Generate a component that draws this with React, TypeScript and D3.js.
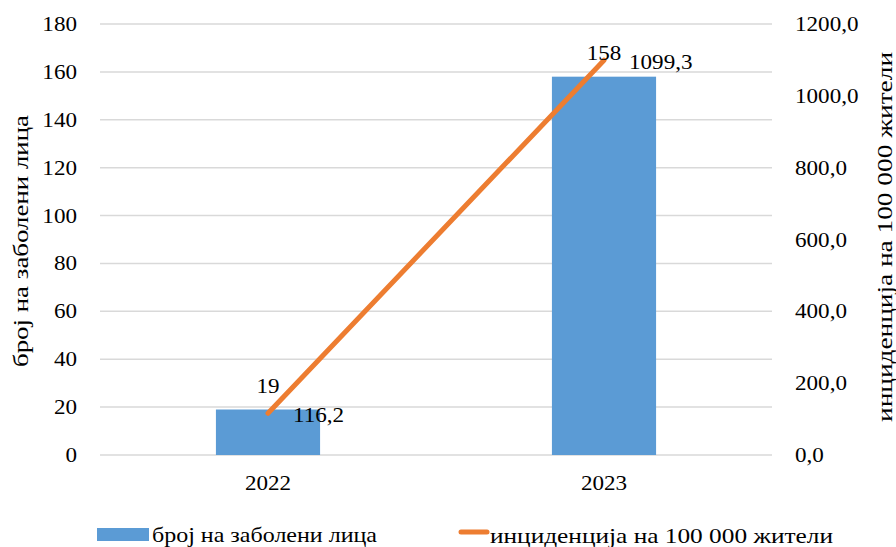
import React from "react";
import * as d3 from "d3";

const categories = ["2022", "2023"];
const cases = [19, 158];
const incidence = [116.2, 1099.3];
const leftTicks = [0, 20, 40, 60, 80, 100, 120, 140, 160, 180];
const rightTicks = [0, 200, 400, 600, 800, 1000, 1200];
const barName = "број на заболени лица";
const lineName = "инциденција на 100 000 жители";

const W = 896;
const H = 547;
const FONT = "Liberation Serif, Times New Roman, Tinos, DejaVu Serif, serif";

export default function App() {
  const x = d3.scaleBand<string>().domain(categories).range([100, 772]).paddingInner(0.69).paddingOuter(0.345);
  const yL = d3.scaleLinear().domain([0, 180]).range([455, 24]);
  const yR = d3.scaleLinear().domain([0, 1200]).range([455, 24]);
  const cx = (c: string) => (x(c) as number) + x.bandwidth() / 2;
  const fmt = (v: number) => v.toFixed(1).replace(".", ",");
  const line = d3
    .line<number>()
    .x((_, i) => cx(categories[i]))
    .y((d) => yR(d));
  const fs = 21;
  const sx = 1.1;
  const T = (props: { x: number; y: number; anchor?: string; children: React.ReactNode }) => (
    <text
      transform={`translate(${props.x},${props.y}) scale(${sx},1)`}
      textAnchor={props.anchor || "start"}
      style={{ fontFamily: FONT }}
      fontSize={fs}
      fill="#000"
    >
      {props.children}
    </text>
  );
  return (
    <svg width={W} height={H} style={{ position: "absolute", left: 0, top: 0, background: "#fff", fontFamily: FONT }}>
      <rect width={W} height={H} fill="#fff" />
      {leftTicks.map((t) => (
        <line key={t} x1={100} x2={772} y1={yL(t)} y2={yL(t)} stroke="#d9d9d9" strokeWidth={1.5} />
      ))}
      {leftTicks.map((t) => (
        <T key={"l" + t} x={77} y={yL(t) + 7} anchor="end">
          {t}
        </T>
      ))}
      {rightTicks.map((t) => (
        <T key={"r" + t} x={795} y={yR(t) + 7}>
          {fmt(t)}
        </T>
      ))}
      {categories.map((c, i) => (
        <rect key={c} x={x(c)} y={yL(cases[i])} width={x.bandwidth()} height={yL(0) - yL(cases[i])} fill="#5B9BD5" />
      ))}
      <path d={line(incidence) || ""} fill="none" stroke="#ED7D31" strokeWidth={5} strokeLinecap="round" />
      {categories.map((c, i) => (
        <T key={"b" + c} x={cx(c)} y={yL(cases[i]) - 16.5} anchor="middle">
          {cases[i]}
        </T>
      ))}
      {categories.map((c, i) => (
        <T key={"p" + c} x={cx(c) + 25} y={yR(incidence[i]) + 9}>
          {fmt(incidence[i])}
        </T>
      ))}
      {categories.map((c) => (
        <T key={"x" + c} x={cx(c)} y={490} anchor="middle">
          {c}
        </T>
      ))}
      <text
        transform={`translate(28,241) rotate(-90)`}
        textAnchor="middle"
        style={{ fontFamily: FONT }}
        fontSize={22}
        textLength={252}
        lengthAdjust="spacingAndGlyphs"
      >
        {barName}
      </text>
      <text
        transform={`translate(892,237) rotate(-90)`}
        textAnchor="middle"
        style={{ fontFamily: FONT }}
        fontSize={22}
        textLength={370}
        lengthAdjust="spacingAndGlyphs"
      >
        {lineName}
      </text>
      <rect x={97} y={528} width={52} height={13} fill="#5B9BD5" />
      <text x={152} y={542} style={{ fontFamily: FONT }} fontSize={21} textLength={225} lengthAdjust="spacingAndGlyphs">
        {barName}
      </text>
      <line x1={461} x2={487} y1={532} y2={532} stroke="#ED7D31" strokeWidth={5} strokeLinecap="round" />
      <text x={490} y={543} style={{ fontFamily: FONT }} fontSize={21} textLength={343} lengthAdjust="spacingAndGlyphs">
        {lineName}
      </text>
    </svg>
  );
}
